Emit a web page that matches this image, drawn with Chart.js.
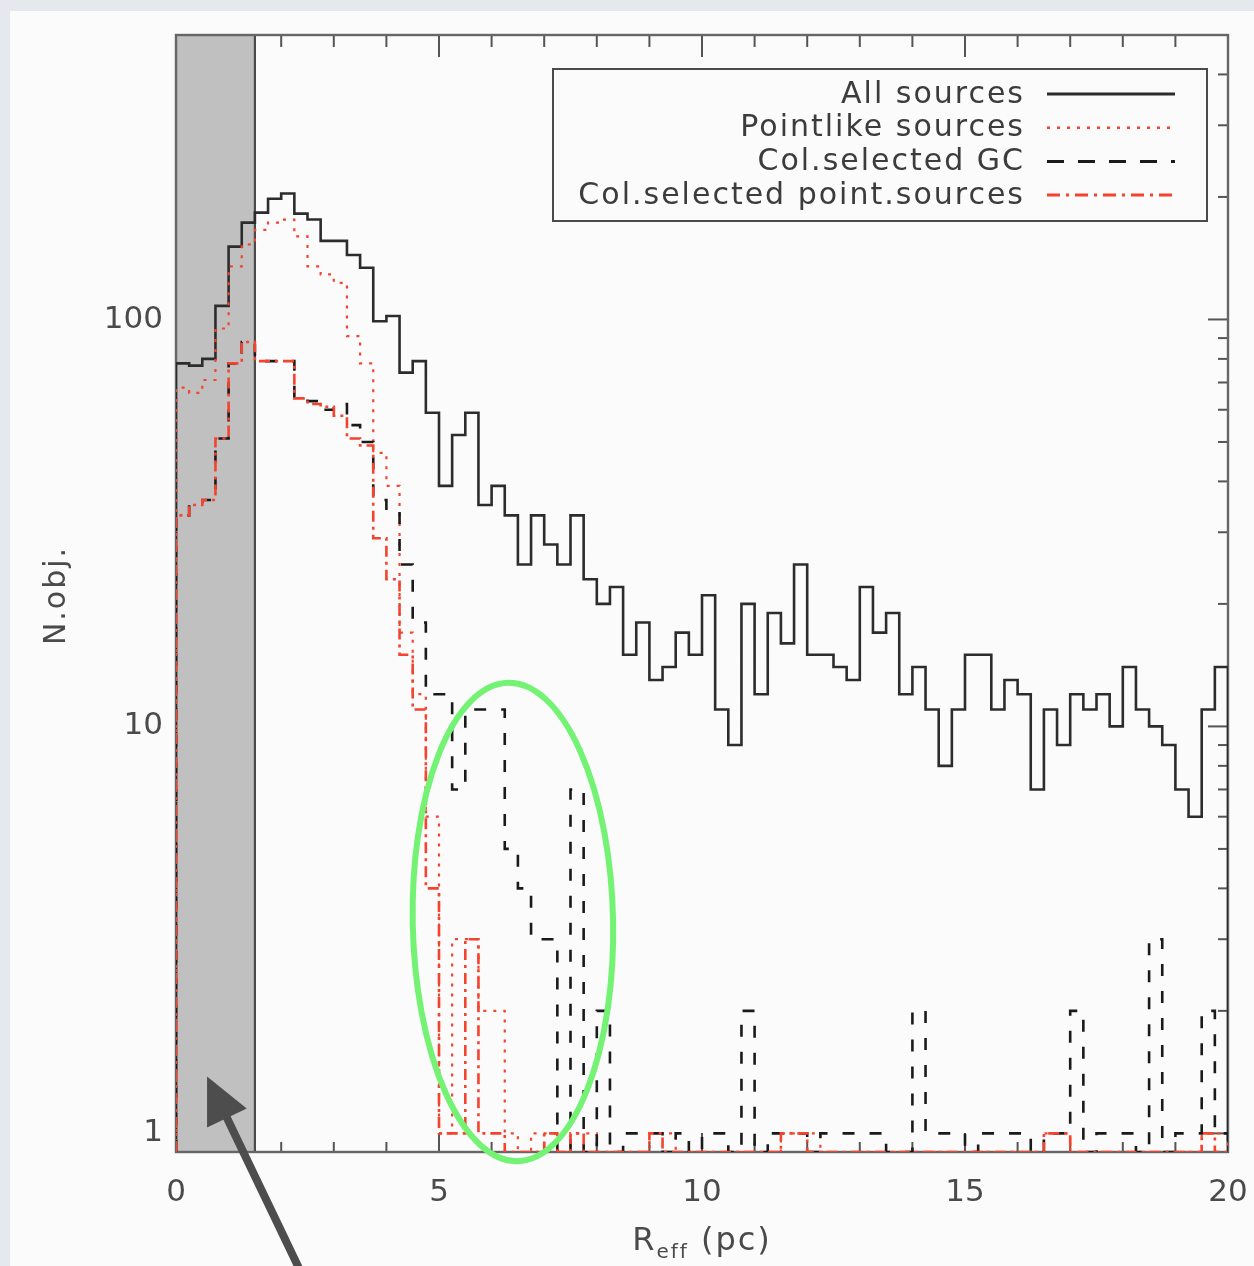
<!DOCTYPE html>
<html>
<head>
<meta charset="utf-8">
<script src="https://cdn.jsdelivr.net/npm/chart.js@4.4.1/dist/chart.umd.min.js"></script>
<style>
  html, body { margin: 0; padding: 0; background: #e5e8ec; }
  canvas { display: block; }
</style>
</head>
<body>
<canvas id="c" width="1254" height="1266"></canvas>
<script>
// Histogram binning (pc) and axis ranges
const BIN_WIDTH = 0.25;
const R_MIN = 0, R_MAX = 20;
const N_MIN = 0.9, N_MAX = 500;
const EXCLUDED_RANGE = [0, 1.5];

// Tick values
const X_TICKS = [0, 5, 10, 15, 20];
const X_MINOR_TICKS = [1, 2, 3, 4, 6, 7, 8, 9, 11, 12, 13, 14, 16, 17, 18, 19];
const Y_TICKS = [1, 10, 100];
const Y_MINOR_TICKS = [2, 3, 4, 5, 6, 7, 8, 9, 20, 30, 40, 50, 60, 70, 80, 90, 200, 300, 400];

// Series names
const SERIES_LABELS = ['All sources', 'Pointlike sources', 'Col.selected GC', 'Col.selected point.sources'];

// Counts per 0.25 pc bin, from R = 0 to 20 pc
const ALL_SOURCES = [
  78, 77, 80, 108, 151, 173, 183, 198, 204, 182,
  176, 156, 156, 144, 134, 99, 102, 74, 79, 59,
  39, 52, 59, 35, 39, 33, 25, 33, 28, 25,
  33, 23, 20, 22, 15, 18, 13, 14, 17, 15,
  21, 11, 9, 20, 12, 19, 16, 25, 15, 15,
  14, 13, 22, 17, 19, 12, 14, 11, 8, 11,
  15, 15, 11, 13, 12, 7, 11, 9, 12, 11,
  12, 10, 14, 11, 10, 9, 7, 6, 11, 14
];
const POINTLIKE = [
  68, 66, 71, 95, 135, 153, 166, 173, 176, 160,
  135, 129, 123, 91, 78, 47, 39, 17, 12, 6,
  1, 3, 3, 2, 2, 1, 0, 1, 1, 0,
  1, 1, 0, 0, 0, 0, 1, 1, 0, 0,
  0, 0, 0, 0, 0, 0, 1, 1, 1, 0,
  0, 0, 0, 0, 0, 0, 0, 0, 0, 0,
  0, 0, 0, 0, 0, 0, 1, 1, 0, 0,
  0, 0, 0, 0, 0, 0, 0, 0, 1, 1
];
const COL_GC = [
  33, 35, 36, 51, 78, 88, 79, 79, 79, 64,
  63, 60, 62, 55, 50, 36, 34, 25, 18, 12,
  12, 7, 11, 11, 11, 5, 4, 3, 3, 0,
  7, 0, 2, 0, 1, 1, 1, 0, 1, 0,
  1, 1, 0, 2, 0, 1, 1, 1, 0, 1,
  1, 1, 1, 1, 0, 0, 2, 1, 1, 1,
  0, 1, 1, 1, 1, 0, 1, 1, 2, 0,
  1, 1, 1, 0, 3, 0, 1, 1, 2, 1
];
const COL_POINT = [
  33, 35, 36, 51, 78, 88, 79, 79, 79, 64,
  62, 61, 58, 51, 49, 29, 23, 15, 11, 4,
  1, 1, 3, 1, 1, 0, 0, 0, 1, 0,
  1, 0, 0, 0, 0, 0, 1, 0, 0, 0,
  0, 0, 0, 0, 0, 0, 1, 1, 0, 0,
  0, 0, 0, 0, 0, 0, 0, 0, 0, 0,
  0, 0, 0, 0, 0, 0, 1, 1, 0, 0,
  0, 0, 0, 0, 0, 0, 0, 0, 1, 0
];

// Highlight ellipse (data-space extent) and arrow (data-space endpoints)
const HIGHLIGHT_X = [4.5, 8.31];
const HIGHLIGHT_Y = [0.854, 12.8];
const ARROW_TAIL = { x: 2.36, y: 0.46 };
const ARROW_TIP = { x: 0.59, y: 1.38 };

const FONT = '"DejaVu Sans", "Liberation Sans", sans-serif';
const TEXT_COLOR = '#4a4a4a';
const RED = '#f4432e';

// Outline of a step histogram; empty bins sit on the axis floor of the log scale
function stepPoints(counts) {
  const pts = [{ x: R_MIN, y: N_MIN }];
  counts.forEach((n, i) => {
    const y = n > 0 ? n : N_MIN;
    pts.push({ x: i * BIN_WIDTH, y }, { x: (i + 1) * BIN_WIDTH, y });
  });
  pts.push({ x: counts.length * BIN_WIDTH, y: N_MIN });
  return pts;
}

const STYLES = [
  { color: '#2c2c2c', width: 2.6, dash: [], legendDash: [] },
  { color: RED, width: 2.2, dash: [3, 7], legendDash: [3, 7] },
  { color: '#1a1a1a', width: 2.6, dash: [12, 15], legendDash: [17, 14] },
  { color: RED, width: 2.6, dash: [11, 5, 3, 5], legendDash: [13, 6, 3, 6] }
];
const SERIES = [ALL_SOURCES, POINTLIKE, COL_GC, COL_POINT];

const datasets = SERIES.map((counts, k) => ({
  label: SERIES_LABELS[k],
  data: stepPoints(counts),
  borderColor: STYLES[k].color,
  borderWidth: STYLES[k].width,
  borderDash: STYLES[k].dash,
  borderJoinStyle: 'miter',
  borderCapStyle: 'butt',
  pointRadius: 0,
  tension: 0,
  fill: false,
  order: 4 - k
}));

function line(ctx, x1, y1, x2, y2) {
  ctx.beginPath(); ctx.moveTo(x1, y1); ctx.lineTo(x2, y2); ctx.stroke();
}

const decor = {
  id: 'decor',
  beforeDraw(chart) {
    const { ctx, width, height } = chart;
    ctx.save();
    ctx.fillStyle = '#e5e8ec';
    ctx.fillRect(0, 0, width, height);
    ctx.fillStyle = '#fbfbfb';
    ctx.fillRect(10, 11, width - 10, height - 11);
    ctx.restore();
  },
  beforeDatasetsDraw(chart) {
    const { ctx, chartArea: a } = chart;
    const xs = chart.scales.x, ys = chart.scales.y;
    ctx.save();
    // tick marks on all four sides, pointing inward
    ctx.strokeStyle = '#555';
    ctx.lineWidth = 2;
    X_TICKS.forEach(v => {
      const p = xs.getPixelForValue(v);
      line(ctx, p, a.bottom, p, a.bottom - 19);
      line(ctx, p, a.top, p, a.top + 22);
    });
    X_MINOR_TICKS.forEach(v => {
      const p = xs.getPixelForValue(v);
      line(ctx, p, a.bottom, p, a.bottom - 10);
      line(ctx, p, a.top, p, a.top + 12);
    });
    Y_TICKS.forEach(v => {
      const p = ys.getPixelForValue(v);
      line(ctx, a.left, p, a.left + 20, p);
      line(ctx, a.right, p, a.right - 20, p);
    });
    Y_MINOR_TICKS.forEach(v => {
      const p = ys.getPixelForValue(v);
      line(ctx, a.left, p, a.left + 10, p);
      line(ctx, a.right, p, a.right - 10, p);
    });
    // excluded radius band
    const b0 = xs.getPixelForValue(EXCLUDED_RANGE[0]);
    const b1 = xs.getPixelForValue(EXCLUDED_RANGE[1]);
    ctx.fillStyle = '#c0c0c0';
    ctx.fillRect(b0, a.top, b1 - b0, a.bottom - a.top);
    ctx.strokeStyle = '#4a4a4a';
    ctx.lineWidth = 2.2;
    line(ctx, b1, a.top, b1, a.bottom);
    // plot frame
    ctx.strokeStyle = '#666';
    ctx.lineWidth = 2.4;
    ctx.strokeRect(a.left, a.top, a.right - a.left, a.bottom - a.top);
    ctx.restore();
  },
  afterDatasetsDraw(chart) {
    const { ctx, chartArea: a } = chart;
    const xs = chart.scales.x, ys = chart.scales.y;
    ctx.save();

    // legend box
    const L = { left: a.right - 675, top: a.top + 34, right: a.right - 21, bottom: a.top + 186 };
    ctx.fillStyle = '#fbfbfb';
    ctx.fillRect(L.left, L.top, L.right - L.left, L.bottom - L.top);
    ctx.strokeStyle = '#4a4a4a';
    ctx.lineWidth = 2;
    ctx.strokeRect(L.left, L.top, L.right - L.left, L.bottom - L.top);
    ctx.font = '30px ' + FONT;
    ctx.letterSpacing = '2px';
    ctx.textAlign = 'right';
    ctx.textBaseline = 'middle';
    SERIES_LABELS.forEach((lab, k) => {
      const y = L.top + 25 + k * 33.7;
      ctx.fillStyle = '#3c3c3c';
      ctx.fillText(lab, L.left + 472, y + 1);
      ctx.strokeStyle = STYLES[k].color;
      ctx.lineWidth = STYLES[k].width + 0.4;
      ctx.setLineDash(STYLES[k].legendDash);
      line(ctx, L.left + 494, y, L.left + 622, y);
      ctx.setLineDash([]);
    });

    // axis titles
    ctx.fillStyle = TEXT_COLOR;
    ctx.textAlign = 'left';
    ctx.textBaseline = 'alphabetic';
    const cx = (a.left + a.right) / 2;
    const big = '32px ' + FONT, small = '20px ' + FONT;
    ctx.font = big; const wR = ctx.measureText('R').width;
    ctx.font = small; const wSub = ctx.measureText('eff').width;
    ctx.font = big; const wRest = ctx.measureText(' (pc)').width;
    let tx = cx - (wR + wSub + wRest) / 2;
    const by = a.bottom + 98;
    ctx.font = big; ctx.fillText('R', tx, by); tx += wR;
    ctx.font = small; ctx.fillText('eff', tx, by + 8); tx += wSub;
    ctx.font = big; ctx.fillText(' (pc)', tx, by);

    ctx.save();
    ctx.translate(a.left - 119, (a.top + a.bottom) / 2 + 2);
    ctx.rotate(-Math.PI / 2);
    ctx.textAlign = 'center';
    ctx.textBaseline = 'middle';
    ctx.font = '30px ' + FONT;
    ctx.fillText('N.obj.', 0, 0);
    ctx.restore();
    ctx.letterSpacing = '0px';

    // highlight ellipse
    const ex0 = xs.getPixelForValue(HIGHLIGHT_X[0]), ex1 = xs.getPixelForValue(HIGHLIGHT_X[1]);
    const ey0 = ys.getPixelForValue(HIGHLIGHT_Y[1]), ey1 = ys.getPixelForValue(HIGHLIGHT_Y[0]);
    ctx.strokeStyle = '#74f274';
    ctx.lineWidth = 6;
    ctx.beginPath();
    ctx.ellipse((ex0 + ex1) / 2, (ey0 + ey1) / 2, (ex1 - ex0) / 2, (ey1 - ey0) / 2, -0.02, 0, Math.PI * 2);
    ctx.stroke();

    // arrow pointing at the excluded band
    const t0 = { x: xs.getPixelForValue(ARROW_TAIL.x), y: ys.getPixelForValue(ARROW_TAIL.y) };
    const t1 = { x: xs.getPixelForValue(ARROW_TIP.x), y: ys.getPixelForValue(ARROW_TIP.y) };
    const ang = Math.atan2(t1.y - t0.y, t1.x - t0.x);
    const headLen = 46, headHalf = 22;
    const baseX = t1.x - headLen * Math.cos(ang), baseY = t1.y - headLen * Math.sin(ang);
    ctx.strokeStyle = '#4d4d4d';
    ctx.fillStyle = '#4d4d4d';
    ctx.lineWidth = 8;
    line(ctx, t0.x, t0.y, baseX + 4 * Math.cos(ang), baseY + 4 * Math.sin(ang));
    ctx.beginPath();
    ctx.moveTo(t1.x, t1.y);
    ctx.lineTo(baseX + headHalf * Math.sin(ang), baseY - headHalf * Math.cos(ang));
    ctx.lineTo(baseX - headHalf * Math.sin(ang), baseY + headHalf * Math.cos(ang));
    ctx.closePath();
    ctx.fill();

    ctx.restore();
  }
};

new Chart(document.getElementById('c'), {
  type: 'line',
  data: { datasets },
  options: {
    responsive: false,
    animation: false,
    devicePixelRatio: 1,
    layout: { padding: { left: 0, top: 35, right: 26, bottom: 0 } },
    plugins: { legend: { display: false }, tooltip: { enabled: false } },
    scales: {
      x: {
        type: 'linear',
        min: R_MIN,
        max: R_MAX,
        grid: { display: false, drawTicks: false },
        border: { display: false },
        afterBuildTicks: s => { s.ticks = X_TICKS.map(v => ({ value: v })); },
        afterFit: s => { s.height = 114; s.paddingLeft = 0; s.paddingRight = 0; },
        ticks: {
          font: { family: FONT, size: 31 },
          color: TEXT_COLOR,
          padding: 22,
          maxRotation: 0,
          autoSkip: false,
          callback: v => String(v)
        }
      },
      y: {
        type: 'logarithmic',
        min: N_MIN,
        max: N_MAX,
        bounds: 'data',
        grid: { display: false, drawTicks: false },
        border: { display: false },
        afterBuildTicks: s => { s.ticks = Y_TICKS.map(v => ({ value: v })); },
        afterFit: s => { s.width = 176; s.paddingTop = 0; s.paddingBottom = 0; },
        ticks: {
          font: { family: FONT, size: 31 },
          color: TEXT_COLOR,
          padding: 13,
          autoSkip: false,
          callback: v => String(v)
        }
      }
    }
  },
  plugins: [decor]
});
</script>
</body>
</html>
